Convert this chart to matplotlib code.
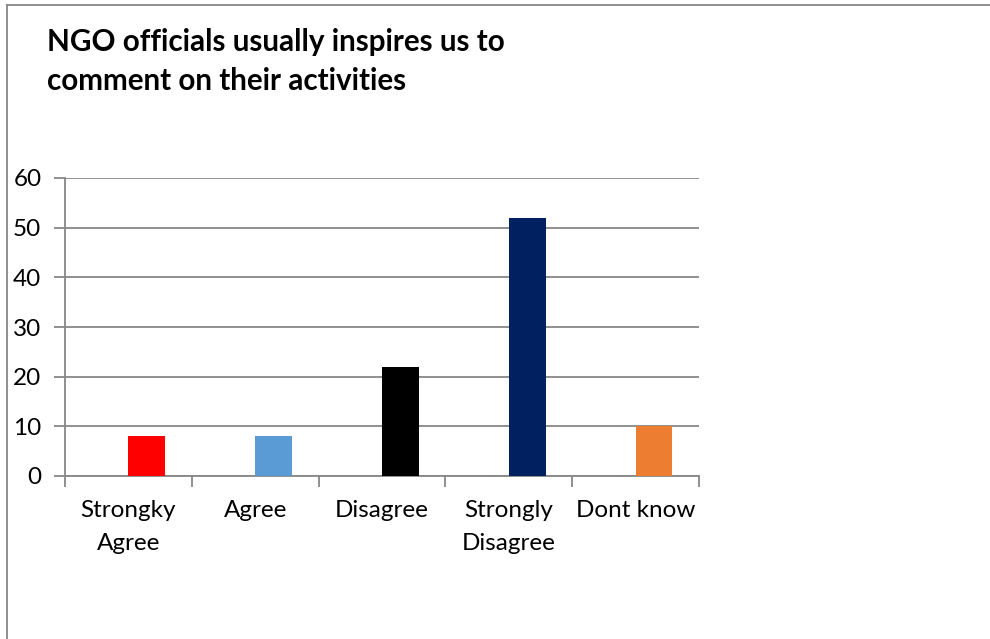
import matplotlib
matplotlib.use("Agg")
import matplotlib.pyplot as plt
import numpy as np
from matplotlib.lines import Line2D

categories = ["Strongky\nAgree", "Agree", "Disagree", "Strongly\nDisagree", "Dont know"]
values = [8, 8, 22, 52, 10]
bar_colors = ["#FF0000", "#5B9BD5", "#000000", "#002060", "#ED7D31"]
y_ticks = [0, 10, 20, 30, 40, 50, 60]

plt.rcParams['font.family'] = ['Lato', 'DejaVu Sans']

fig = plt.figure(figsize=(9.9, 6.39), dpi=100)
ax = fig.add_axes([65 / 990, 1 - 476 / 639, (699 - 65) / 990, (476 - 178) / 639])

x = np.arange(len(categories))
ax.bar(x, values, width=0.29, align='edge', color=bar_colors, zorder=3)

ax.set_xlim(-0.5, len(categories) - 0.5)
ax.set_ylim(0, 60)
ax.set_yticks(y_ticks)
ax.set_yticklabels([str(v) for v in y_ticks], fontsize=17.5)
ax.yaxis.grid(True, color="#878787", linewidth=1.3, zorder=0)

ax.set_xticks(x)
ax.set_xticklabels(categories, fontsize=17.5, linespacing=1.7)
ax.set_xticks(np.arange(-0.5, len(categories)), minor=True)
ax.tick_params(axis='x', which='major', length=0, pad=17)
ax.tick_params(axis='x', which='minor', length=8, width=1.3, color="#878787", direction='out')
ax.tick_params(axis='y', length=8, width=1.3, color="#878787", pad=9)

for side in ["top", "right"]:
    ax.spines[side].set_visible(False)
for side in ["left", "bottom"]:
    ax.spines[side].set_color("#878787")
    ax.spines[side].set_linewidth(1.3)

# outer chart frame (only left and top edges visible)
fig.add_artist(Line2D([7 / 990, 7 / 990], [0, 1 - 5 / 639], transform=fig.transFigure,
                      color="#878787", linewidth=1.3))
fig.add_artist(Line2D([7 / 990, 1], [1 - 5 / 639, 1 - 5 / 639], transform=fig.transFigure,
                      color="#878787", linewidth=1.3))

fig.text(47 / 990, 1 - 28 / 639, "NGO officials usually inspires us to\ncomment on their activities",
         fontsize=21.3, fontweight='bold', ha='left', va='top', linespacing=1.5)

fig.savefig("out.png", dpi=100, facecolor="white")
